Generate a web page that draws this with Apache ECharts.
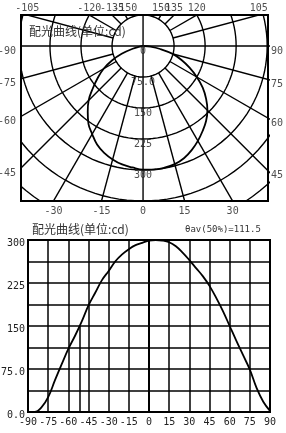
<!DOCTYPE html>
<html>
<head>
<meta charset="utf-8">
<script src="https://cdn.jsdelivr.net/npm/echarts@6.0.0/dist/echarts.min.js"></script>
<style>
  html, body { margin: 0; padding: 0; background: #fff; }
  #chart { width: 286px; height: 433px; }
</style>
</head>
<body>
<div id="chart"></div>
<script>
// light distribution curve (cd), angle in degrees, 0 = straight down
const angles = [-90, -85, -80, -75, -70, -65, -60, -55, -50, -45, -40, -35, -30, -25, -20, -15, -10, -5,
  0, 5, 10, 15, 20, 25, 30, 35, 40, 45, 50, 55, 60, 65, 70, 75, 80, 85, 90]
const intensity = [0, 0, 8, 26, 55, 83, 110, 133, 158, 186, 208, 230, 246, 263, 275, 284, 291, 295,
  299, 300, 299, 296, 289, 278, 265, 251, 237, 220, 199, 176, 150, 124, 99, 74, 42, 18, 2]

// polar grid
const ringValues = [75, 150, 225, 300, 375, 450]
const ringLabelValues = [0, 75, 150, 225, 300]
const ringLabels = ['0', '75.0', '150', '225', '300']
const spokeAngles = [-165, -150, -135, -120, -105, -90, -75, -60, -45, -30, -15, 0,
  15, 30, 45, 60, 75, 90, 105, 120, 135, 150, 165, 180]
const topAngles = [-105, -120, -135, -150, 150, 135, 120, 105]
const leftAngles = [-90, -75, -60, -45]
const rightAngles = [90, 75, 60, 45]
const bottomAngles = [-30, -15, 0, 15, 30]

// cartesian chart
const yTickLabels = ['0.0', '75.0', '150', '225', '300']
const halfLeft = -51.5
const halfValue = 150
const beamText = 'θav(50%)=111.5'
const titleText = '配光曲线(单位:cd)'

// visible window of the polar plot, in cd
const pxMin = -295, pxMax = 302, pyMin = -375, pyMax = 75

const mono = 'DejaVu Sans Mono'
const ink = '#000'

function toXY(deg, r) {
  const a = deg * Math.PI / 180
  return [r * Math.sin(a), -r * Math.cos(a)]
}

// where a spoke leaves the box
function edgePoint(deg) {
  const d = toXY(deg, 1)
  let t = Infinity
  if (d[0] > 1e-9) t = Math.min(t, pxMax / d[0])
  if (d[0] < -1e-9) t = Math.min(t, pxMin / d[0])
  if (d[1] > 1e-9) t = Math.min(t, pyMax / d[1])
  if (d[1] < -1e-9) t = Math.min(t, pyMin / d[1])
  return toXY(deg, t)
}

function lineSeries(data, width) {
  return {
    type: 'line', xAxisIndex: 0, yAxisIndex: 0, data: data,
    symbol: 'none', silent: true, clip: true,
    lineStyle: { color: ink, width: width }
  }
}

function edgeLabels(list, position, distance, offset) {
  return {
    type: 'scatter', xAxisIndex: 0, yAxisIndex: 0, symbolSize: 0, clip: false, silent: true,
    data: list.map(a => edgePoint(a).concat([a])),
    label: {
      show: true, position: position, distance: distance, offset: offset,
      formatter: p => String(p.value[2]),
      fontFamily: mono, fontSize: 10, color: '#222'
    }
  }
}

const series = []

ringValues.forEach(v => {
  const pts = []
  for (let a = 0; a <= 360; a += 3) pts.push(toXY(a, v))
  series.push(lineSeries(pts, 1.4))
})

spokeAngles.forEach(a => {
  const r0 = a % 90 === 0 ? 0 : ringValues[0]
  series.push(lineSeries([toXY(a, r0), toXY(a, 800)], 1.4))
})

// the curve on the polar plot
series.push(Object.assign(lineSeries(angles.map((a, i) => toXY(a, intensity[i])), 1.8), { smooth: 0.4, z: 5 }))

series.push(edgeLabels(topAngles, 'top', 2, [0, 0]))
series.push(edgeLabels(leftAngles, 'left', 5, [0, 5]))
series.push(edgeLabels(rightAngles, 'right', 3, [0, 5]))
series.push(edgeLabels(bottomAngles, 'bottom', 5, [0, 0]))

series.push({
  type: 'scatter', xAxisIndex: 0, yAxisIndex: 0, symbolSize: 0, clip: false, silent: true,
  data: ringLabelValues.map((v, i) => [0, -v, i]),
  label: {
    show: true, position: 'bottom', distance: 0,
    formatter: p => ringLabels[p.value[2]],
    fontFamily: mono, fontSize: 10, color: '#222'
  },
  z: 6
})

// cartesian curve
series.push({
  type: 'line', xAxisIndex: 1, yAxisIndex: 1,
  data: angles.map((a, i) => [a, intensity[i]]),
  smooth: 0.4, symbol: 'none', silent: true,
  lineStyle: { color: ink, width: 1.8 },
  z: 5,
  markLine: {
    symbol: 'none', silent: true, animation: false,
    label: { show: false },
    lineStyle: { color: ink, type: 'solid', width: 1.5 },
    data: [[{ coord: [halfLeft, 0] }, { coord: [halfLeft, halfValue] }]]
  }
})

const titleStyle = { fontFamily: 'Noto Sans CJK SC', fontSize: 12, fontWeight: 'normal', color: '#333' }

const chart = echarts.init(document.getElementById('chart'))
chart.setOption({
  animation: false,
  backgroundColor: '#fff',
  title: [
    { text: titleText, left: 29, top: 25, padding: 0, textStyle: titleStyle },
    { text: titleText, left: 32, top: 223, padding: 0, textStyle: titleStyle },
    { text: beamText, left: 185, top: 225, padding: 0, textStyle: { fontFamily: mono, fontSize: 9, fontWeight: 'normal', color: '#333' } }
  ],
  grid: [
    { left: 21, top: 15, width: 247, height: 186, show: true, borderColor: ink, borderWidth: 2, outerBoundsMode: 'none' },
    { left: 28, top: 240, width: 242, height: 172, show: true, borderColor: ink, borderWidth: 2, outerBoundsMode: 'none' }
  ],
  xAxis: [
    { type: 'value', gridIndex: 0, min: pxMin, max: pxMax, show: false },
    {
      type: 'value', gridIndex: 1, min: -90, max: 90, interval: 15,
      axisLine: { show: true, lineStyle: { color: ink, width: 2 } },
      axisTick: { show: false },
      axisLabel: { margin: 5, fontFamily: mono, fontSize: 10, color: '#222', showMinLabel: true, showMaxLabel: true, hideOverlap: false },
      splitLine: { show: true, lineStyle: { color: ink, width: 1.5 } }
    }
  ],
  yAxis: [
    { type: 'value', gridIndex: 0, min: pyMin, max: pyMax, show: false },
    {
      type: 'value', gridIndex: 1, min: 0, max: 300, interval: 37.5,
      axisLine: { show: true, lineStyle: { color: ink, width: 2 } },
      axisTick: { show: false },
      axisLabel: {
        margin: 3, fontFamily: mono, fontSize: 10, color: '#222',
        verticalAlign: 'top', lineHeight: 6,
        showMinLabel: true, showMaxLabel: true, hideOverlap: false,
        formatter: v => (v % 75 === 0 ? yTickLabels[v / 75] : '')
      },
      splitLine: { show: true, lineStyle: { color: ink, width: 1.5 } }
    }
  ],
  series: series
})
</script>
</body>
</html>
